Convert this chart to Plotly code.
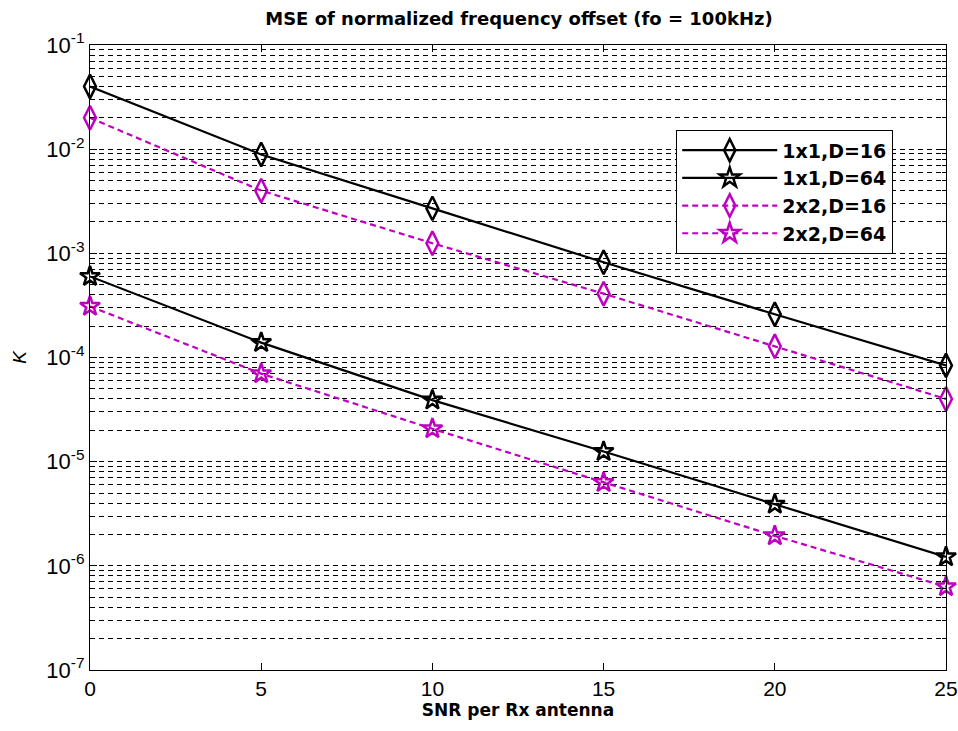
import plotly.graph_objects as go

snr = [0, 5, 10, 15, 20, 25]
mse_1x1_d16 = [0.040, 0.0089, 0.0027, 0.00082, 0.00026, 8.4e-5]
mse_1x1_d64 = [6.0e-4, 1.39e-4, 3.9e-5, 1.25e-5, 3.9e-6, 1.22e-6]
mse_2x2_d16 = [0.020, 0.0040, 0.00125, 0.00041, 0.000128, 4.0e-5]
mse_2x2_d64 = [3.1e-4, 7.0e-5, 2.07e-5, 6.3e-6, 1.94e-6, 6.3e-7]

y_tickvals = [1e-7, 1e-6, 1e-5, 1e-4, 1e-3, 1e-2, 1e-1]
y_ticktext = ["10<sup>-7</sup>", "10<sup>-6</sup>", "10<sup>-5</sup>", "10<sup>-4</sup>",
              "10<sup>-3</sup>", "10<sup>-2</sup>", "10<sup>-1</sup>"]
x_tickvals = [0, 5, 10, 15, 20, 25]

series = [
    ("1x1,D=16", mse_1x1_d16, "black", "solid", "diamond-tall-open"),
    ("1x1,D=64", mse_1x1_d64, "black", "solid", "star-open"),
    ("2x2,D=16", mse_2x2_d16, "#c000c0", "6px,4px", "diamond-tall-open"),
    ("2x2,D=64", mse_2x2_d64, "#c000c0", "6px,4px", "star-open"),
]

BOLD = "DejaVu Sans, Verdana, sans-serif"
REG = "Liberation Sans, Arial, sans-serif"

fig = go.Figure()
for name, vals, col, dash, sym in series:
    fig.add_trace(go.Scatter(
        x=snr, y=vals, name="<b>" + name + "</b>", mode="lines+markers",
        line=dict(color=col, width=2.2, dash=dash),
        marker=dict(symbol=sym, size=17 if "diamond" in sym else 15,
                    color=col, line=dict(color=col, width=2.5)),
        cliponaxis=False,
    ))

fig.update_layout(
    width=958, height=731,
    margin=dict(l=90, r=12, t=45, b=61, autoexpand=False),
    paper_bgcolor="white", plot_bgcolor="white",
    font=dict(family=REG, color="black", size=18),
    title=dict(text="<b>MSE of normalized frequency offset (fo = 100kHz)</b>",
               x=0.5417, xanchor="center", y=0.975, yanchor="middle",
               font=dict(size=18, family=BOLD)),
    legend=dict(x=0.938, xanchor="right", y=0.864, yanchor="top",
                bordercolor="black", borderwidth=1.3, bgcolor="white",
                font=dict(size=19, family=BOLD),
                itemwidth=95, tracegroupgap=4),
    showlegend=True,
)

grid_dash = "5px,4px"
fig.update_xaxes(
    range=[0, 25], tickmode="array", tickvals=x_tickvals,
    ticks="inside", ticklen=7, tickcolor="black",
    showline=True, linecolor="black", linewidth=1.3, mirror="allticks",
    showgrid=False, zeroline=False, ticklabeloverflow="allow",
    title=dict(text="<b>SNR per Rx antenna</b>", font=dict(size=17, family=BOLD), standoff=4),
    tickfont=dict(size=21),
)
fig.update_yaxes(
    type="log", range=[-7, -1], tickmode="array", tickvals=y_tickvals, ticktext=y_ticktext,
    ticks="inside", ticklen=7, tickcolor="black",
    showline=True, linecolor="black", linewidth=1.3, mirror="allticks",
    showgrid=True, gridcolor="black", griddash=grid_dash, gridwidth=1,
    minor=dict(dtick="D1", showgrid=True, gridcolor="black", griddash=grid_dash,
               gridwidth=1, ticks="inside", ticklen=4, tickcolor="black"),
    zeroline=False, ticklabeloverflow="allow",
    title=dict(text="<i>K</i>", font=dict(size=19), standoff=14),
    tickfont=dict(size=22),
)

fig.write_html("out.html")
